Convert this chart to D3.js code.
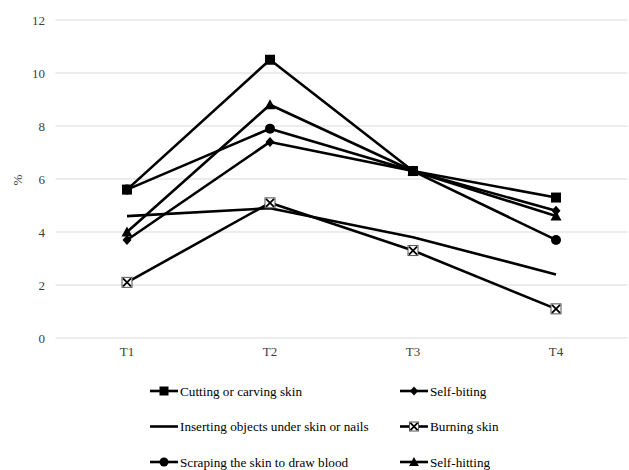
<!DOCTYPE html>
<html><head><meta charset="utf-8">
<script src="https://cdn.jsdelivr.net/npm/d3@7/dist/d3.min.js"></script>
<style>body{margin:0;background:#fff}svg{display:block}</style>
</head><body>
<svg id="c" width="629" height="470"></svg>
<script>
const categories = ["T1","T2","T3","T4"];
const seriesNames = ["Cutting or carving skin","Self-biting","Inserting objects under skin or nails","Burning skin","Scraping the skin to draw blood","Self-hitting"];
const markers = ["square","diamond","none","xbox","circle","triangle"];
const cutting = [5.6,10.5,6.3,5.3];
const selfBiting = [3.7,7.4,6.3,4.8];
const inserting = [4.6,4.9,3.8,2.4];
const burning = [2.1,5.1,3.3,1.1];
const scraping = [5.6,7.9,6.3,3.7];
const selfHitting = [4.0,8.8,6.3,4.6];
const yTicks = [0,2,4,6,8,10,12];
const seriesValues = [cutting,selfBiting,inserting,burning,scraping,selfHitting];

const FONT = "'Liberation Serif', 'Times New Roman', Tinos, 'DejaVu Serif', serif";
const svg = d3.select("#c");
const x = d3.scaleBand().domain(categories).range([55.5,627.5]);
const y = d3.scaleLinear().domain([0,12]).range([338,20]);
const cx = d => x(d) + x.bandwidth()/2;

// gridlines
svg.append("g").selectAll("line").data(yTicks).join("line")
  .attr("x1",55.5).attr("x2",627.5).attr("y1",d=>y(d)).attr("y2",d=>y(d))
  .attr("stroke","#d9d9d9").attr("stroke-width",1);

// y axis labels
const yAxis = d3.axisLeft(y).tickValues(yTicks).tickSize(0).tickPadding(0);
const ga = svg.append("g").attr("transform","translate(45,0)").call(yAxis);
ga.select(".domain").remove();
ga.attr("font-family", null);
ga.selectAll("text").attr("font-size",13).attr("fill","#404040").style("font-family",FONT);

// x axis labels
const xAxis = d3.axisBottom(x).tickSize(0).tickPadding(0);
const gx = svg.append("g").attr("transform","translate(0,347)").call(xAxis);
gx.select(".domain").remove();
gx.attr("font-family", null);
gx.selectAll("text").attr("font-size",13).attr("fill","#404040").style("font-family",FONT);

// y title
svg.append("text").attr("transform","translate(22,180) rotate(-90)").attr("text-anchor","middle")
  .attr("font-size",13).attr("fill","#404040").style("font-family",FONT).text("%");

function drawMarker(g, type, px, py, s) {
  s = s || 1;
  if (type === "square") {
    g.append("rect").attr("x",px-5*s).attr("y",py-5*s).attr("width",10*s).attr("height",10*s).attr("fill","#000");
  } else if (type === "diamond") {
    g.append("path").attr("d",`M${px},${py-5*s}L${px+4.5*s},${py}L${px},${py+5*s}L${px-4.5*s},${py}Z`).attr("fill","#000");
  } else if (type === "circle") {
    g.append("circle").attr("cx",px).attr("cy",py).attr("r",5*s).attr("fill","#000");
  } else if (type === "triangle") {
    g.append("path").attr("d",`M${px},${py-5.5*s}L${px+5.5*s},${py+4.5*s}L${px-5.5*s},${py+4.5*s}Z`).attr("fill","#000");
  } else if (type === "xbox") {
    g.append("rect").attr("x",px-5*s).attr("y",py-5*s).attr("width",10*s).attr("height",10*s)
      .attr("fill","#fff").attr("stroke","#555").attr("stroke-width",1);
    g.append("path").attr("d",`M${px-4*s},${py-4*s}L${px+4*s},${py+4*s}M${px+4*s},${py-4*s}L${px-4*s},${py+4*s}`)
      .attr("stroke","#000").attr("stroke-width",1.8);
  }
}

const line = d3.line().x((d,i)=>cx(categories[i])).y(d=>y(d));
seriesValues.forEach((vals, si) => {
  const g = svg.append("g");
  g.append("path").attr("d", line(vals)).attr("fill","none").attr("stroke","#000")
    .attr("stroke-width",2.6).attr("stroke-linejoin","round");
  vals.forEach((v,i) => drawMarker(g, markers[si], cx(categories[i]), y(v)));
});

// legend
const legX = [150, 400];
const legY = [391, 426.5, 462];
seriesNames.forEach((name, i) => {
  const col = i % 2, row = Math.floor(i/2);
  const lx = legX[col], ly = legY[row];
  const g = svg.append("g");
  g.append("line").attr("x1",lx).attr("x2",lx+28).attr("y1",ly).attr("y2",ly).attr("stroke","#000").attr("stroke-width",2.6);
  drawMarker(g, markers[i], lx+14, ly, 0.9);
  g.append("text").attr("x",lx+30).attr("y",ly).attr("dy","0.35em").attr("font-size",13.2).attr("fill","#000")
    .style("font-family",FONT).text(name);
});
</script>
</body></html>
